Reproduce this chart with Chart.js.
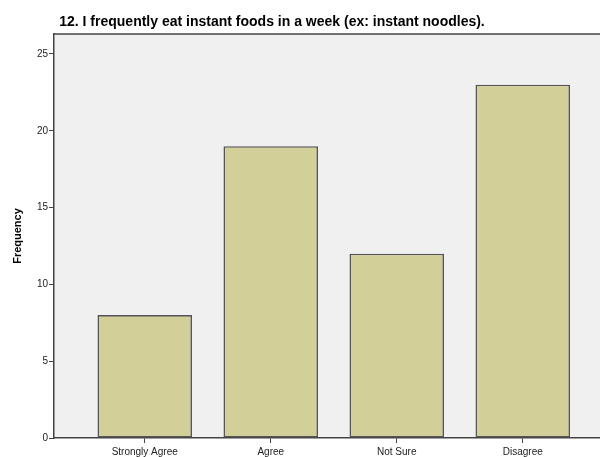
<!DOCTYPE html>
<html>
<head>
<meta charset="utf-8">
<script src="https://cdn.jsdelivr.net/npm/chart.js@4/dist/chart.umd.min.js"></script>
<style>
html,body{margin:0;padding:0;background:#fff;}
#wrap{width:600px;height:457px;position:relative;}
</style>
</head>
<body>
<div id="wrap"><canvas id="c" width="600" height="457"></canvas></div>
<script>
const categories = ["Strongly Agree", "Agree", "Not Sure", "Disagree"];
const frequencies = [8, 19, 12, 23];
const yTicks = [0, 5, 10, 15, 20, 25];
const chartTitle = "12. I frequently eat instant foods in a week (ex: instant noodles).";
const yAxisTitle = "Frequency";

const FONT = "'Liberation Sans', Arial, sans-serif";

const plotBg = {
  id: 'plotBg',
  beforeDraw(chart) {
    const {ctx, chartArea: a} = chart;
    ctx.save();
    ctx.fillStyle = '#f0f0f0';
    ctx.fillRect(a.left, a.top, a.right - a.left, a.bottom - a.top);
    ctx.strokeStyle = '#444';
    ctx.lineWidth = 1.5;
    ctx.beginPath();
    ctx.moveTo(a.left, a.top);
    ctx.lineTo(a.right, a.top);
    ctx.stroke();
    ctx.restore();
  },
  afterDraw(chart) {
    const {ctx} = chart;
    ctx.save();
    ctx.fillStyle = '#000';
    ctx.font = "bold 14px " + FONT;
    ctx.textAlign = 'center';
    ctx.textBaseline = 'middle';
    ctx.fillText(chartTitle, 272, 22);
    ctx.restore();
  }
};

new Chart(document.getElementById('c'), {
  type: 'bar',
  data: {
    datasets: [{
      data: frequencies.map((v, i) => ({x: i, y: v})),
      backgroundColor: '#d3cf98',
      borderColor: '#555555',
      borderWidth: 1.6,
      borderSkipped: false,
      barPercentage: 0.75,
      categoryPercentage: 1.0
    }]
  },
  options: {
    responsive: false,
    animation: false,
    layout: {padding: {top: 34, right: 0, left: 0, bottom: 0}},
    plugins: {legend: {display: false}, tooltip: {enabled: false}, title: {display: false}},
    scales: {
      x: {
        type: 'linear',
        offset: false,
        min: -0.72,
        max: 3.613,
        afterBuildTicks(scale) { scale.ticks = categories.map((c, i) => ({value: i})); },
        afterFit(scale) { scale.height = 19; },
        grid: {display: true, offset: false, drawOnChartArea: false, drawTicks: true, tickLength: 5, color: '#444', lineWidth: 1},
        border: {display: true, color: '#444', width: 1.5},
        ticks: {
          autoSkip: false, maxRotation: 0, padding: 3,
          color: '#222', font: {family: FONT, size: 10},
          callback: (v) => categories[v] !== undefined ? categories[v] : ''
        }
      },
      y: {
        type: 'linear',
        min: 0,
        max: 26.3,
        afterBuildTicks(scale) { scale.ticks = yTicks.map(v => ({value: v})); },
        afterFit(scale) { scale.width = 54; },
        grid: {display: true, drawOnChartArea: false, drawTicks: true, tickLength: 5, color: '#444', lineWidth: 1},
        border: {display: true, color: '#444', width: 1.5},
        ticks: {color: '#222', font: {family: FONT, size: 10}, padding: 1},
        title: {display: true, text: yAxisTitle, color: '#000', font: {family: FONT, size: 11, weight: 'bold'}, padding: {top: 11, bottom: 0}}
      }
    }
  },
  plugins: [plotBg]
});
</script>
</body>
</html>
